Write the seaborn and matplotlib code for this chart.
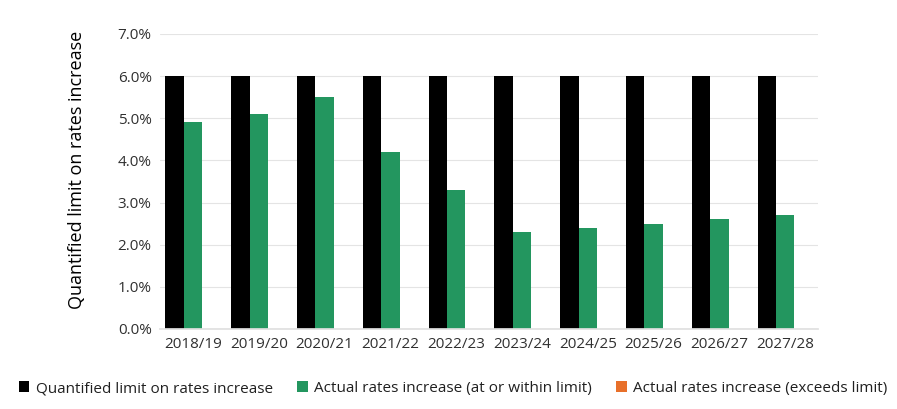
import numpy as np
import pandas as pd
import matplotlib
matplotlib.use("Agg")
import matplotlib.pyplot as plt
from matplotlib.ticker import FuncFormatter, MultipleLocator
from matplotlib.patches import Patch
import seaborn as sns

years = ["2018/19", "2019/20", "2020/21", "2021/22", "2022/23",
         "2023/24", "2024/25", "2025/26", "2026/27", "2027/28"]
limit = [6.0, 6.0, 6.0, 6.0, 6.0, 6.0, 6.0, 6.0, 6.0, 6.0]
actual_within = [4.9, 5.1, 5.5, 4.2, 3.3, 2.3, 2.4, 2.5, 2.6, 2.7]
actual_exceeds = [0.0, 0.0, 0.0, 0.0, 0.0, 0.0, 0.0, 0.0, 0.0, 0.0]

series_names = ["Quantified limit on rates increase",
                "Actual rates increase (at or within limit)",
                "Actual rates increase (exceeds limit)"]
colors = ["#000000", "#23965F", "#E8702A"]

df = pd.DataFrame({
    "year": years * 3,
    "value": limit + actual_within + actual_exceeds,
    "series": [series_names[0]] * len(years)
              + [series_names[1]] * len(years)
              + [series_names[2]] * len(years),
})

sns.set_theme(style="white")
plt.rcParams["font.family"] = ["Open Sans", "DejaVu Sans"]

fig = plt.figure(figsize=(8.97, 4.09), dpi=100)
ax = fig.add_axes([0.1784, 0.1956, 0.7336, 0.7213])

sns.barplot(data=df, x="year", y="value", hue="series",
            palette=colors, hue_order=series_names, order=years,
            width=0.84, saturation=1, linewidth=0, ax=ax, legend=False)

ax.set_ylim(0, 7.0)
ax.yaxis.set_major_locator(MultipleLocator(1.0))
ax.yaxis.set_major_formatter(FuncFormatter(lambda v, _: f"{v:.1f}%"))
ax.grid(axis="y", color="#e4e4e4", linewidth=0.8)
ax.set_axisbelow(True)
for s in ["top", "right", "left"]:
    ax.spines[s].set_visible(False)
ax.spines["bottom"].set_color("#e0e0e0")
ax.tick_params(axis="both", length=0, labelsize=11, colors="#303030", pad=6)
ax.set_xlabel("")
ax.set_ylabel("Quantified limit on rates increase", fontsize=13,
              color="#000000")
ax.yaxis.set_label_coords(-0.112, 0.54)

handles = [Patch(facecolor=c, edgecolor="none") for c in colors]
fig.legend(handles, series_names, loc="center", bbox_to_anchor=(0.505, 0.05),
           ncol=3, frameon=False, fontsize=11, handlelength=0.7,
           handleheight=0.7, handletextpad=0.4, columnspacing=1.6,
           labelcolor="#202020")

fig.savefig("out.png", dpi=100)
